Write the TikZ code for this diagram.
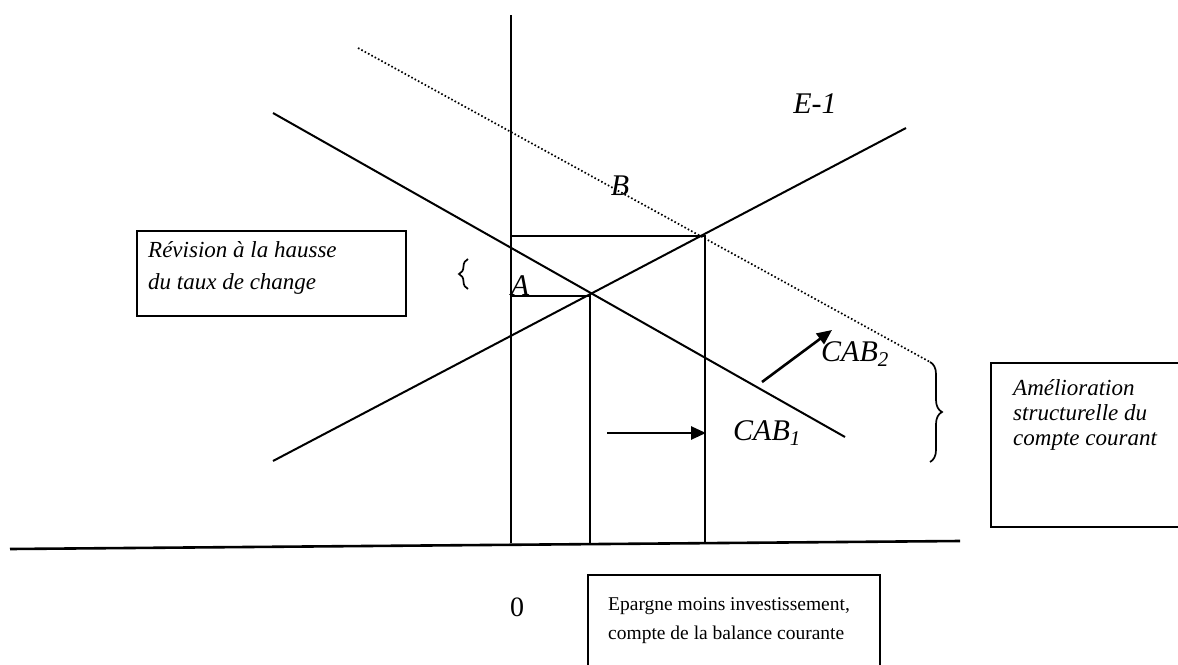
\documentclass[tikz,border=0pt]{standalone}
\usepackage{fontspec}
\setmainfont{Liberation Serif}
\usetikzlibrary{arrows.meta,decorations.pathreplacing}
\begin{document}
\begin{tikzpicture}[x=1pt,y=-1pt,
 curve/.style={line width=2pt},
 dotline/.style={line width=1.7pt,dash pattern=on 1.6pt off 2.2pt},
 axis/.style={line width=2.6pt},
 guide/.style={line width=1.9pt},
 box/.style={line width=1.9pt},
 lbl/.style={font=\fontsize{30}{34}\selectfont\itshape, inner sep=0pt},
 small/.style={font=\fontsize{23}{25}\selectfont\itshape, inner sep=0pt, anchor=base west},
 plain/.style={font=\fontsize{19.5}{24}\selectfont, inner sep=0pt, anchor=base west},
 arr/.style={line width=2.6pt,-{Triangle[length=15pt,width=13pt]}},
 brace/.style={line width=1.7pt,decorate,decoration={brace,amplitude=#1}},
 ]
\useasboundingbox (0,0) rectangle (1178,664);
% coordinates
\coordinate (vtop) at (511,15);
\coordinate (vbot) at (511,543);
\coordinate (hl) at (10,549);
\coordinate (hr) at (960,541);
\coordinate (c1s) at (273,113);
\coordinate (c1e) at (845,437);
\coordinate (es) at (273,461);
\coordinate (ee) at (906,128);
\coordinate (ds) at (358,48);
\coordinate (de) at (930,362);
\coordinate (pA) at (590,296);
\coordinate (pB) at (705,236);
\coordinate (yA) at (511,296);
\coordinate (yB) at (511,236);
\coordinate (xA) at (590,543);
\coordinate (xB) at (705,542);
\coordinate (a1s) at (762,382);
\coordinate (a1e) at (832,330);
\coordinate (a2s) at (607,433);
\coordinate (a2e) at (706,433);
% axes
\draw[axis] (vtop) -- (vbot);
\draw[axis] (hl) -- (hr);
% curves
\draw[curve] (c1s) -- (c1e);
\draw[curve] (es) -- (ee);
\draw[dotline] (ds) -- (de);
% guides
\draw[guide] (yB) -- (pB) -- (xB);
\draw[guide] (yA) -- (pA) -- (xA);
% arrows
\draw[arr] (a1s) -- (a1e);
\draw[arr] (a2s) -- (a2e);
% braces
\draw[brace=12pt] (930,362) -- (930,462);
\draw[brace=9pt] (468,289) -- (468,259);
% boxes
\draw[box] (137,231) rectangle (406,316);
\draw[box] (1182,363) -- (991,363) -- (991,527) -- (1182,527);
\draw[box] (588,670) -- (588,575) -- (880,575) -- (880,670);
% labels
\node[lbl] (lA) at (520,286) {A};
\node[lbl] (lB) at (620,186) {B};
\node[lbl] (lE) at (815,104) {E-1};
\node[lbl] (lC2) at (855,354) {CAB\textsubscript{2}};
\node[lbl] (lC1) at (767,433) {CAB\textsubscript{1}};
\node[font=\fontsize{28}{32}\selectfont, inner sep=0pt] (zero) at (517,607) {0};
\node[small] (r1) at (148,257) {Révision à la hausse};
\node[small] (r2) at (148,289) {du taux de change};
\node[small] (m1) at (1013,395) {Amélioration};
\node[small] (m2) at (1013,420) {structurelle du};
\node[small] (m3) at (1013,445) {compte courant};
\node[plain] (b1) at (608,610) {Epargne moins investissement,};
\node[plain] (b2) at (608,639) {compte de la balance courante};
\end{tikzpicture}
\end{document}
